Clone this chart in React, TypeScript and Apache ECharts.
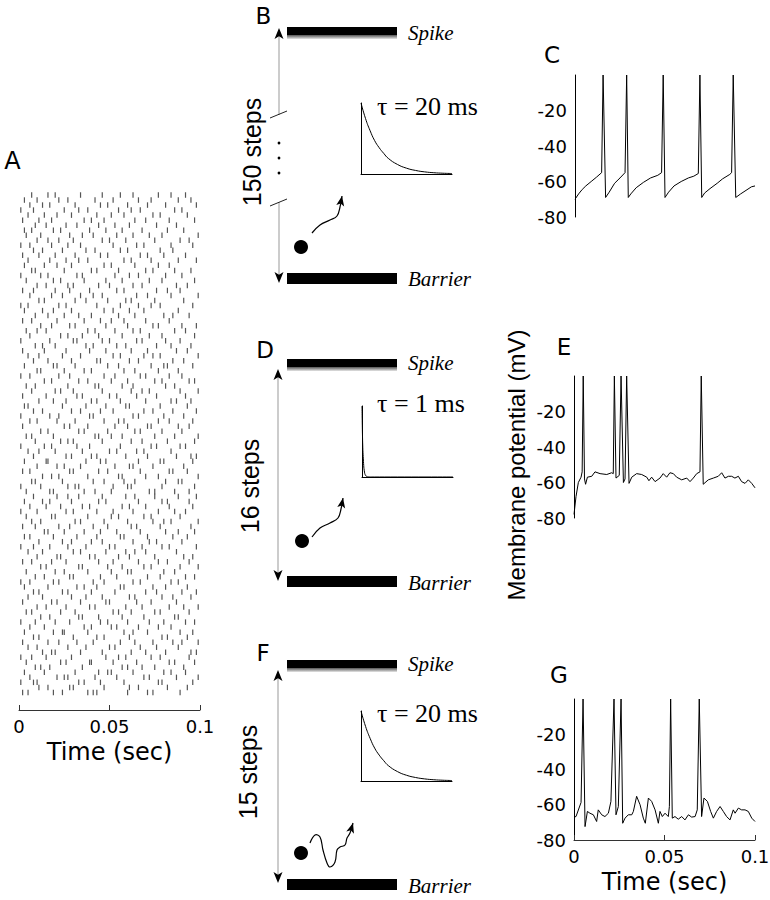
import React, { useEffect, useRef } from 'react';
import * as echarts from 'echarts';

const SANS = '"DejaVu Sans", sans-serif';
const ARIAL = '"Liberation Sans", Arial, sans-serif';
const SERIF = '"Liberation Serif", "Times New Roman", serif';

// Panel A raster: spike times (ms) per trial row, bottom row first
const rasterRows: number[][] = [
  [2, 5, 19, 24, 38, 41, 43, 60, 71, 74, 89], [11, 16, 28, 30, 47, 61, 66, 82, 93],
  [1, 8, 10, 33, 36, 45, 58, 77, 79, 96], [6, 21, 25, 27, 42, 54, 69, 72, 87, 99],
  [3, 14, 31, 44, 49, 51, 63, 80, 84, 92], [9, 12, 17, 35, 57, 60, 68, 75, 91],
  [4, 23, 26, 39, 40, 52, 65, 83, 86, 97], [1, 7, 15, 29, 48, 55, 59, 73, 78, 94],
  [13, 18, 20, 34, 46, 62, 70, 81, 95, 98], [5, 10, 27, 37, 50, 53, 67, 76, 88],
  [2, 16, 22, 32, 41, 56, 64, 74, 85, 90, 99], [8, 11, 30, 43, 47, 61, 79, 82, 93],
  [3, 19, 24, 25, 38, 58, 63, 71, 89, 96], [6, 14, 36, 40, 51, 54, 66, 77, 84],
  [1, 9, 20, 28, 45, 49, 60, 72, 80, 92, 97], [12, 17, 33, 35, 44, 57, 69, 86, 88],
  [4, 7, 23, 31, 52, 55, 62, 75, 78, 94], [10, 15, 26, 39, 42, 59, 68, 83, 91, 99],
  [2, 18, 21, 34, 48, 50, 65, 73, 87], [5, 13, 29, 37, 46, 61, 64, 79, 85, 95],
  [8, 11, 24, 27, 40, 53, 70, 76, 90, 98], [3, 16, 32, 36, 43, 56, 58, 74, 81, 93],
  [1, 6, 19, 22, 41, 47, 63, 67, 84, 88], [9, 14, 28, 30, 45, 54, 71, 78, 92, 97],
  [4, 20, 25, 38, 51, 60, 62, 80, 86], [12, 15, 33, 35, 49, 57, 69, 73, 89, 99],
  [2, 7, 18, 26, 44, 52, 66, 77, 82, 94], [10, 21, 23, 39, 42, 55, 61, 75, 91, 96],
  [5, 13, 30, 34, 48, 59, 64, 70, 87], [1, 8, 17, 27, 37, 50, 53, 68, 79, 83, 98],
  [11, 24, 29, 40, 46, 63, 72, 76, 90], [3, 6, 19, 32, 43, 56, 58, 71, 85, 93],
  [14, 16, 25, 36, 45, 54, 67, 81, 88, 97], [2, 9, 22, 28, 41, 49, 62, 65, 78, 95],
  [7, 12, 31, 34, 47, 60, 74, 80, 84, 99], [4, 18, 20, 38, 51, 55, 69, 73, 89],
  [1, 10, 26, 30, 43, 52, 63, 77, 86, 92], [6, 15, 23, 35, 39, 57, 61, 70, 83, 96],
  [3, 13, 17, 29, 44, 48, 66, 79, 82, 94], [8, 21, 27, 33, 46, 59, 64, 75, 88, 98],
  [4, 17, 19, 36, 42, 51, 72, 75, 86, 94], [1, 12, 27, 31, 33, 52, 60, 62, 79, 97],
  [7, 9, 24, 41, 47, 58, 64, 81, 88, 90], [13, 18, 22, 38, 55, 57, 70, 77, 99],
  [2, 6, 28, 30, 44, 49, 67, 83, 85, 93], [10, 21, 25, 34, 53, 61, 63, 74, 91],
  [3, 15, 16, 37, 45, 48, 66, 78, 80, 96], [8, 26, 29, 40, 43, 59, 71, 87, 95, 98],
  [5, 11, 20, 35, 50, 54, 65, 69, 84], [1, 14, 18, 32, 39, 56, 73, 76, 89, 92],
  [9, 23, 27, 30, 46, 62, 68, 82, 97], [4, 7, 19, 42, 44, 51, 57, 75, 86, 99],
  [12, 16, 33, 36, 49, 64, 67, 79, 90], [2, 25, 28, 38, 53, 60, 71, 73, 88, 94],
  [6, 10, 21, 31, 47, 55, 58, 77, 83, 96], [1, 17, 22, 39, 41, 63, 66, 80, 91],
  [8, 13, 29, 34, 45, 52, 69, 74, 85, 98], [3, 5, 24, 37, 48, 59, 61, 78, 93],
  [11, 19, 26, 40, 43, 56, 70, 84, 87, 95], [2, 15, 32, 35, 50, 54, 65, 76, 92],
  [7, 20, 23, 30, 46, 62, 68, 72, 89, 99], [4, 9, 27, 42, 44, 57, 63, 81, 86],
  [14, 18, 33, 38, 51, 60, 75, 79, 94, 97], [1, 6, 22, 28, 47, 53, 67, 70, 83, 90],
  [10, 12, 25, 36, 40, 58, 64, 77, 88], [3, 19, 21, 31, 49, 55, 73, 80, 82, 96],
  [8, 16, 29, 43, 45, 61, 66, 85, 91], [5, 11, 24, 34, 52, 56, 69, 74, 78, 99],
  [2, 14, 26, 39, 48, 62, 71, 87, 93], [9, 13, 20, 37, 41, 54, 59, 76, 84, 95],
  [1, 17, 30, 32, 46, 50, 65, 68, 81, 89], [6, 23, 27, 35, 44, 57, 72, 79, 97],
  [4, 10, 15, 38, 42, 53, 63, 67, 86, 92], [12, 18, 28, 31, 48, 60, 74, 77, 90, 98],
  [2, 7, 21, 36, 45, 51, 58, 70, 83], [9, 16, 25, 33, 40, 55, 64, 80, 85, 94],
  [3, 13, 19, 29, 47, 52, 61, 69, 88], [1, 5, 22, 26, 43, 56, 66, 73, 78, 96],
  [11, 14, 31, 37, 49, 59, 62, 75, 91], [6, 18, 24, 34, 41, 46, 65, 71, 84, 99],
  [2, 8, 20, 28, 39, 54, 58, 76, 82, 89], [10, 15, 27, 30, 44, 50, 63, 68, 87, 93],
  [4, 19, 23, 36, 48, 57, 72, 79, 97], [1, 12, 16, 32, 35, 53, 61, 66, 81, 90],
  [7, 9, 25, 40, 43, 55, 70, 74, 86, 95], [3, 14, 21, 29, 47, 51, 64, 77, 83],
  [5, 17, 26, 33, 38, 58, 62, 73, 88, 98], [2, 11, 20, 31, 45, 49, 67, 71, 80, 92],
  [8, 13, 24, 37, 42, 56, 60, 78, 85], [1, 6, 18, 27, 34, 52, 65, 69, 84, 96],
  [10, 16, 22, 30, 46, 50, 59, 75, 89, 94], [4, 12, 28, 35, 41, 54, 63, 72, 79, 99],
  [3, 7, 19, 23, 39, 48, 57, 68, 82, 91], [9, 15, 26, 32, 44, 53, 61, 76, 87],
  [2, 11, 18, 36, 40, 47, 64, 70, 83, 97], [5, 14, 21, 29, 43, 51, 58, 74, 78, 93],
  [1, 8, 25, 33, 38, 55, 62, 67, 86, 90], [6, 13, 17, 31, 45, 49, 60, 71, 81, 98],
  [3, 10, 22, 27, 42, 52, 66, 73, 88, 95], [7, 16, 20, 34, 46, 56, 63, 77, 84, 92],
];

// Membrane potential traces: [time (ms), mV]
const traceC: number[][] = [
  [0, -70], [2, -67], [4, -64.5], [6, -62.5], [9, -60], [12, -57.5], [14.8, -55], [15.6, 0], [17, -69],
  [19, -66], [22, -61], [25, -58], [27.8, -55], [28.7, 0], [29.6, -69], [31, -67], [34, -63.5], [38, -60.5],
  [42, -58], [46, -56.5], [48.1, -55], [49, 0], [50, -69], [52, -66], [55, -62.5], [59, -60], [63, -58],
  [66, -57], [68.5, -55.5], [69.4, 0], [70.4, -69], [72, -66.5], [75, -64], [79, -61], [82, -58.5], [86, -56],
  [87, -55], [87.9, 0], [89.3, -69], [92, -67], [95, -65], [98, -63], [100, -62.5],
];
const traceE: number[][] = [
  [0, -78], [1.1, -68], [2.4, -60], [3.9, -57], [4.5, -54], [5.1, 0], [5.8, -58], [6.4, -61], [7.4, -57],
  [9.8, -56.5], [11.6, -54], [14.4, -55], [18.1, -55.5], [20.8, -54.5], [21.7, -55], [22.3, 0], [23.2, -57.5],
  [25, -56], [26, 0], [27.3, -60], [28.2, -58], [29.1, 0], [30.4, -60.5], [31.9, -57], [34.6, -55], [37.4, -55.5],
  [40.2, -57], [41.4, -59], [42.9, -57], [44.8, -59.5], [47.5, -57.5], [49.3, -55], [51.2, -57], [53, -54.5],
  [54.9, -55], [56.7, -57], [59.5, -58.5], [62.3, -57.5], [64.1, -59.5], [65.9, -57.5], [67.8, -55], [69.6, -54],
  [70.3, 0], [71.4, -61], [74.2, -58.5], [77, -57.5], [79.7, -56.5], [81.6, -54.5], [83.4, -57.5], [85.3, -56.5],
  [87.1, -56.5], [88.9, -57.5], [90.8, -56.5], [92.6, -59.5], [94.5, -60.5], [96.3, -58.5], [98.2, -60.5], [100, -63],
];
const traceG: number[][] = [
  [0, -67], [1.1, -66.7], [3.9, -58.7], [5, 0], [6.1, -72.4], [7.4, -63.8], [8.8, -64.8], [10.7, -65.7],
  [12.5, -69.5], [13.4, -62.9], [15.3, -65.7], [17.1, -66.7], [19, -64.8], [20.4, -58.1], [22.1, 0], [23.2, -65.7],
  [24.5, -61], [26, 0], [26.9, -70.5], [28.2, -67.6], [30, -65.7], [31.9, -65.7], [32.8, -63.8], [34.6, -55.2],
  [36.5, -60], [38.3, -67.6], [39.4, -70.5], [41.1, -56.2], [42.9, -58.1], [44.8, -62.9], [46.6, -70.5],
  [47.5, -63.8], [48.8, -66.7], [50.3, -64.8], [52.1, -66.7], [52.7, -61], [53.4, 0], [54.3, -67.6], [55.8, -66.7],
  [57.6, -68.2], [59.5, -66.7], [61.3, -68.6], [63.2, -65.7], [65, -67], [66.9, -66.7], [68.1, -62.9], [69.2, 0],
  [70.5, -66.7], [71.8, -56.2], [73.7, -58.1], [75.5, -63.8], [77, -67.6], [78.8, -63.8], [80.7, -61],
  [82.5, -63.8], [84.3, -66.7], [86.2, -68.6], [88, -62.9], [89, -64.8], [90.8, -61.9], [92.6, -62.9],
  [94.5, -62.9], [96.3, -63.8], [98.2, -67.6], [100, -69.5],
];

// Inset kernels: [time (ms), normalised amplitude]
const kernel20: number[][] = [
  [0, 1], [5, 0.78], [10, 0.61], [15, 0.47], [20, 0.37], [25, 0.29], [30, 0.22], [40, 0.135],
  [50, 0.082], [60, 0.05], [70, 0.03], [80, 0.018], [90, 0.011], [100, 0.007],
];
const kernel1: number[][] = [
  [0, 1], [0.5, 0.6], [1, 0.37], [2, 0.14], [3, 0.05], [4, 0.02], [6, 0.003], [10, 0], [100, 0],
];

const yTicksMv = [-80, -60, -40, -20];

type Diagram = {
  label: string; labelX: number; labelY: number;
  spikeY: number; barrierY: number; spikeTextY: number; barrierTextY: number;
  arrowX: number; tipTop: number; tipBottom: number;
  steps: string; stepsX: number; stepsY: number;
  tau: string; tauY: number;
  ballX: number; ballY: number;
  wave: number[][]; waveTip: number[];
  broken?: boolean;
};

const diagrams: Diagram[] = [
  {
    label: 'B', labelX: 263.5, labelY: 15.5, spikeY: 27, barrierY: 273, spikeTextY: 33, barrierTextY: 279,
    arrowX: 279, tipTop: 28, tipBottom: 283, steps: '150 steps', stepsX: 252, stepsY: 152,
    tau: 'τ = 20 ms', tauY: 106, ballX: 301, ballY: 247,
    wave: [[312, 233], [320, 225], [330, 220], [337, 216], [340, 207]], waveTip: [342, 196], broken: true,
  },
  {
    label: 'D', labelX: 265, labelY: 350, spikeY: 359, barrierY: 576, spikeTextY: 363, barrierTextY: 583,
    arrowX: 278, tipTop: 369, tipBottom: 581, steps: '16 steps', stepsX: 250, stepsY: 486,
    tau: 'τ = 1 ms', tauY: 403, ballX: 302, ballY: 541,
    wave: [[312, 537], [320, 528], [330, 523], [338, 518], [341, 509]], waveTip: [343, 498],
  },
  {
    label: 'F', labelX: 263, labelY: 653, spikeY: 660, barrierY: 879, spikeTextY: 664, barrierTextY: 886,
    arrowX: 278, tipTop: 670, tipBottom: 883, steps: '15 steps', stepsX: 248, stepsY: 772,
    tau: 'τ = 20 ms', tauY: 713, ballX: 301, ballY: 853,
    wave: [[310, 843], [315, 835], [320, 837], [323, 850], [327, 863], [330, 867], [335, 862], [337, 850],
      [340, 847], [345, 845], [347, 838], [350, 833]], waveTip: [353, 823],
  },
];

function arrowHead(tip: number[], from: number[], len = 9, half = 4) {
  const dx = tip[0] - from[0];
  const dy = tip[1] - from[1];
  const L = Math.hypot(dx, dy) || 1;
  const ux = dx / L, uy = dy / L;
  const nx = -uy, ny = ux;
  const bx = tip[0] - ux * len, by = tip[1] - uy * len;
  return [
    [tip[0], tip[1]],
    [bx + nx * half, by + ny * half],
    [tip[0] - ux * len * 0.75, tip[1] - uy * len * 0.75],
    [bx - nx * half, by - ny * half],
  ];
}

function diagramGraphics(d: Diagram): any[] {
  const els: any[] = [];
  const barX = 287, barW = 110;
  els.push({ type: 'text', x: d.labelX, y: d.labelY, style: { text: d.label, fill: '#000', font: `23px ${SANS}`, textAlign: 'center', textVerticalAlign: 'middle' } });
  els.push({ type: 'rect', shape: { x: barX, y: d.spikeY, width: barW, height: 8 }, style: { fill: '#000' } });
  els.push({
    type: 'rect', shape: { x: barX, y: d.spikeY + 8, width: barW, height: 4 },
    style: { fill: new echarts.graphic.LinearGradient(0, 0, 0, 1, [{ offset: 0, color: '#555' }, { offset: 1, color: '#e6e6e6' }]) },
  });
  els.push({ type: 'rect', shape: { x: barX, y: d.barrierY, width: barW, height: 11 }, style: { fill: '#000' } });
  els.push({ type: 'text', x: 408, y: d.spikeTextY, style: { text: 'Spike', fill: '#000', font: `italic 21px ${SERIF}`, textAlign: 'left', textVerticalAlign: 'middle' } });
  els.push({ type: 'text', x: 408, y: d.barrierTextY, style: { text: 'Barrier', fill: '#000', font: `italic 21px ${SERIF}`, textAlign: 'left', textVerticalAlign: 'middle' } });
  const top = d.tipTop + 7, bot = d.tipBottom - 7;
  const lineStyle = { stroke: '#999', lineWidth: 1 };
  if (d.broken) {
    els.push({ type: 'line', shape: { x1: d.arrowX, y1: top, x2: d.arrowX, y2: 115 }, style: lineStyle });
    els.push({ type: 'line', shape: { x1: d.arrowX, y1: 202, x2: d.arrowX, y2: bot }, style: lineStyle });
    els.push({ type: 'line', shape: { x1: 270, y1: 118, x2: 287, y2: 111 }, style: { stroke: '#222', lineWidth: 1 } });
    els.push({ type: 'line', shape: { x1: 270, y1: 206, x2: 287, y2: 199 }, style: { stroke: '#222', lineWidth: 1 } });
    [143, 158, 173].forEach((y) => els.push({ type: 'circle', shape: { cx: d.arrowX, cy: y, r: 1.4 }, style: { fill: '#000' } }));
  } else {
    els.push({ type: 'line', shape: { x1: d.arrowX, y1: top, x2: d.arrowX, y2: bot }, style: lineStyle });
  }
  els.push({ type: 'polygon', shape: { points: arrowHead([d.arrowX, d.tipTop], [d.arrowX, d.tipTop + 20], 11, 4.5) }, style: { fill: '#000' } });
  els.push({ type: 'polygon', shape: { points: arrowHead([d.arrowX, d.tipBottom], [d.arrowX, d.tipBottom - 20], 11, 4.5) }, style: { fill: '#000' } });
  els.push({ type: 'text', x: d.stepsX, y: d.stepsY, rotation: Math.PI / 2, style: { text: d.steps, fill: '#000', font: `25px ${ARIAL}`, textAlign: 'center', textVerticalAlign: 'middle' } });
  els.push({ type: 'text', x: 377, y: d.tauY, style: { text: d.tau, fill: '#000', font: `26px ${SERIF}`, textAlign: 'left', textVerticalAlign: 'middle' } });
  els.push({ type: 'circle', shape: { cx: d.ballX, cy: d.ballY, r: 7 }, style: { fill: '#000' } });
  els.push({ type: 'polyline', shape: { points: [...d.wave, d.waveTip], smooth: 0.4 }, style: { stroke: '#000', lineWidth: 1.2, fill: null } });
  els.push({ type: 'polygon', shape: { points: arrowHead(d.waveTip, d.wave[d.wave.length - 1], 10, 4) }, style: { fill: '#000' } });
  return els;
}

const labelStyle = { color: '#000', fontFamily: SANS, fontSize: 18 };

function timeAxis(gridIndex: number, show: boolean) {
  return {
    type: 'value', gridIndex, min: 0, max: 0.1, interval: 0.05, show,
    axisLine: { show, onZero: false, lineStyle: { color: '#333', width: 1 } },
    axisTick: { show, inside: true, length: 5, lineStyle: { color: '#333' } },
    axisLabel: { show, ...labelStyle, margin: 7, formatter: (v: number) => String(Number(v.toFixed(3))) },
    splitLine: { show: false },
    name: show ? 'Time (sec)' : '', nameLocation: 'middle', nameGap: 30,
    nameTextStyle: { color: '#000', fontFamily: SANS, fontSize: 24 },
  };
}
function mvAxis(gridIndex: number) {
  return {
    type: 'value', gridIndex, min: -80, max: 0, interval: 20,
    axisLine: { show: true, onZero: false, lineStyle: { color: '#000', width: 1 } },
    axisTick: { show: false },
    axisLabel: { ...labelStyle, margin: 8, formatter: (v: number) => (yTicksMv.includes(v) ? String(v) : '') },
    splitLine: { show: false },
  };
}
function insetAxes(gridIndex: number) {
  const common = {
    gridIndex, axisLine: { show: true, onZero: false, lineStyle: { color: '#000', width: 1 } },
    axisTick: { show: false }, axisLabel: { show: false }, splitLine: { show: false },
  };
  return [{ type: 'value', min: 0, max: 100, ...common }, { type: 'value', min: 0, max: 1, ...common }];
}

export default function App() {
  const ref = useRef<HTMLDivElement>(null);
  useEffect(() => {
    document.body.style.margin = '0';
    if (!ref.current) return;
    const chart = echarts.init(ref.current, null, { renderer: 'svg' });
    const rasterData = rasterRows.flatMap((row, i) => row.map((t) => [t / 1000, i]));
    const toSec = (arr: number[][]) => arr.map(([t, v]) => [t / 1000, v]);
    const insetB = insetAxes(4), insetD = insetAxes(5), insetF = insetAxes(6);
    const option: any = {
      animation: false,
      backgroundColor: '#fff',
      grid: [
        { left: 19, top: 190, width: 181, height: 520, outerBoundsMode: 'none' },
        { left: 575, top: 75, width: 180, height: 142, outerBoundsMode: 'none' },
        { left: 574, top: 376, width: 181, height: 142, outerBoundsMode: 'none' },
        { left: 574, top: 699, width: 181, height: 141, outerBoundsMode: 'none' },
        { left: 361, top: 103, width: 91, height: 71, outerBoundsMode: 'none' },
        { left: 362, top: 406, width: 91, height: 71, outerBoundsMode: 'none' },
        { left: 361, top: 711, width: 91, height: 70, outerBoundsMode: 'none' },
      ],
      xAxis: [
        timeAxis(0, true), timeAxis(1, false), timeAxis(2, false), timeAxis(3, true),
        insetB[0], insetD[0], insetF[0],
      ],
      yAxis: [
        { type: 'value', gridIndex: 0, min: -3.5, max: 100, show: false },
        mvAxis(1), mvAxis(2), mvAxis(3),
        insetB[1], insetD[1], insetF[1],
      ],
      series: [
        {
          type: 'scatter', xAxisIndex: 0, yAxisIndex: 0, data: rasterData,
          symbol: 'rect', symbolSize: [1.2, 5.5], itemStyle: { color: '#2a2a2a' }, silent: true,
        },
        ...[traceC, traceE, traceG].map((tr, k) => ({
          type: 'line', xAxisIndex: k + 1, yAxisIndex: k + 1, data: toSec(tr),
          symbol: 'none', lineStyle: { color: '#000', width: 1 }, silent: true,
        })),
        ...[kernel20, kernel1, kernel20].map((kr, k) => ({
          type: 'line', xAxisIndex: k + 4, yAxisIndex: k + 4, data: kr, smooth: k === 1 ? 0.2 : 0.5,
          symbol: 'none', lineStyle: { color: '#000', width: 1 }, silent: true,
        })),
      ],
      graphic: {
        elements: [
          { type: 'text', x: 12.5, y: 161, style: { text: 'A', fill: '#000', font: `24px ${SANS}`, textAlign: 'center', textVerticalAlign: 'middle' } },
          { type: 'text', x: 552, y: 55, style: { text: 'C', fill: '#000', font: `23px ${SANS}`, textAlign: 'center', textVerticalAlign: 'middle' } },
          { type: 'text', x: 564, y: 347, style: { text: 'E', fill: '#000', font: `23px ${SANS}`, textAlign: 'center', textVerticalAlign: 'middle' } },
          { type: 'text', x: 559, y: 675, style: { text: 'G', fill: '#000', font: `23px ${SANS}`, textAlign: 'center', textVerticalAlign: 'middle' } },
          { type: 'text', x: 516, y: 465, rotation: Math.PI / 2, style: { text: 'Membrane potential (mV)', fill: '#000', font: `24px ${ARIAL}`, textAlign: 'center', textVerticalAlign: 'middle' } },
          ...diagrams.flatMap(diagramGraphics),
        ],
      },
    };
    chart.setOption(option);
    return () => chart.dispose();
  }, []);
  return <div ref={ref} style={{ width: 770, height: 900 }} />;
}
